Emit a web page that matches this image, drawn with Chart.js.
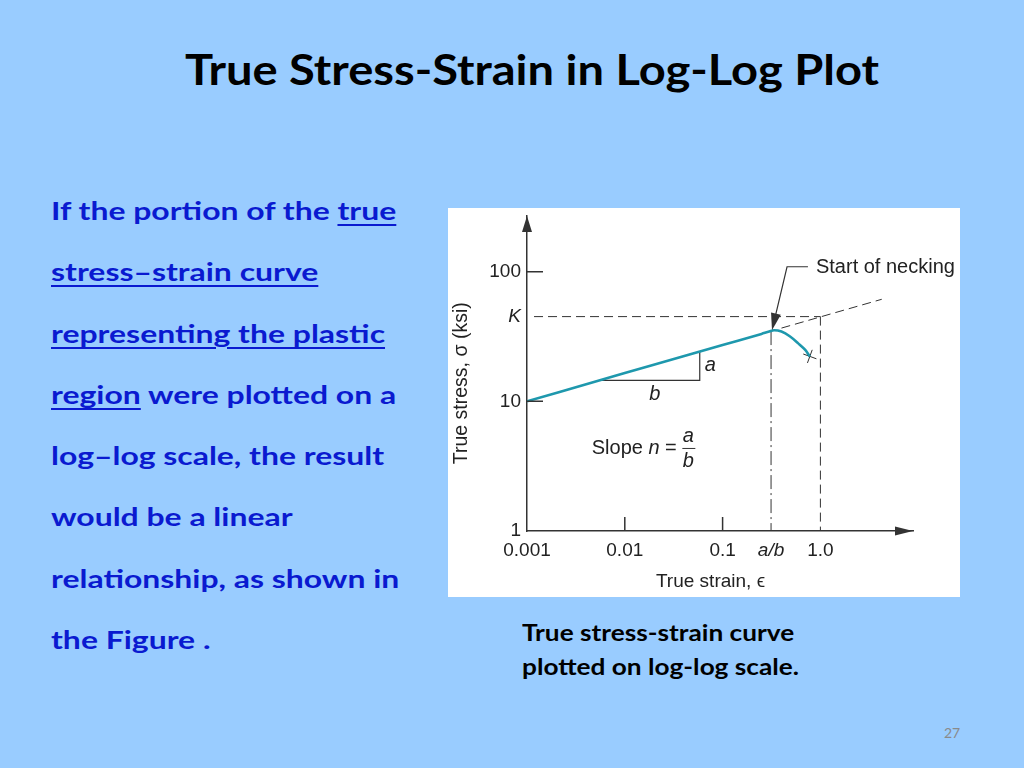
<!DOCTYPE html>
<html>
<head>
<meta charset="utf-8">
<script src="https://cdn.jsdelivr.net/npm/chart.js@4/dist/chart.umd.min.js"></script>
<style>
  body { margin: 0; width: 1024px; height: 768px; background: #99ccff; position: relative; overflow: hidden; font-family: Lato, "Open Sans", sans-serif; }
  #title { position: absolute; left: 185px; top: 44px; font-weight: bold; font-size: 42px; color: #000; white-space: nowrap; transform: scaleX(1.12); transform-origin: left top; }
  #text { position: absolute; left: 51px; top: 180px; font-weight: bold; font-size: 24px; line-height: 61.3px; color: #0a1ad0; white-space: nowrap; transform: scaleX(1.33); transform-origin: left top; }
  #text u { text-decoration-thickness: 2px; text-underline-offset: 4px; }
  #caption { position: absolute; left: 522px; top: 615px; font-weight: bold; font-size: 23px; line-height: 34px; color: #000; white-space: nowrap; transform: scaleX(1.14); transform-origin: left top; }
  #page { position: absolute; left: 944px; top: 724px; font-size: 14px; color: #8a8a8a; }
  #box { position: absolute; left: 448px; top: 208px; width: 512px; height: 389px; background: #fff; }
</style>
</head>
<body>
<div id="title">True Stress-Strain in Log-Log Plot</div>
<div id="text">
  If the portion of the <u>true</u><br>
  <u>stress–strain curve</u><br>
  <u>representing the plastic</u><br>
  <u>region</u> were plotted on a<br>
  log–log scale, the result<br>
  would be a linear<br>
  relationship, as shown in<br>
  the Figure .
</div>
<div id="box"><canvas id="chart" width="512" height="389"></canvas></div>
<div id="caption">True stress-strain curve<br>plotted on log-log scale.</div>
<div id="page">27</div>

<script>
// axis ticks
const xTickValues = [0.001, 0.01, 0.1, 0.313, 1.0];
const xTickLabels = ['0.001', '0.01', '0.1', 'a/b', '1.0'];
const yTickValues = [1, 10, 45, 100];
const yTickLabels = ['1', '10', 'K', '100'];
const xMarkValues = [0.01, 0.1];
const yMarkValues = [10, 100];

// true stress-strain curve (ksi), up to necking and beyond
const curveStrain = [0.001, 0.01, 0.1, 0.25, 0.30, 0.336, 0.40, 0.49, 0.59, 0.70, 0.78];
const curveStress = [10, 16.5, 27.2, 33.1, 34.5, 35.3, 34.5, 31.6, 28.1, 24.9, 22.2];

// guide lines
const extStrain = [0.40, 4.24];
const extStress = [36.7, 61.2];
const kStrain = [0.00118, 1.0];
const kStress = [45, 45];
const oneStrain = [1.0, 1.0];
const oneStress = [45, 1];
const abStrain = [0.313, 0.313];
const abStress = [34.8, 1];
const triStrain = [0.0058, 0.0584, 0.0584];
const triStress = [14.5, 14.5, 24.2];
const leaderStrain = [0.746, 0.456, 0.327];
const leaderStress = [109, 109, 37.9];

const ink = '#333';
const teal = '#1e98ad';
const sans = '"Liberation Sans", Arial, "DejaVu Sans", sans-serif';

const pts = (xs, ys) => xs.map((x, i) => ({ x: x, y: ys[i] }));

function guide(xs, ys, dash, width) {
  return { data: pts(xs, ys), borderColor: ink, borderWidth: width || 1, borderDash: dash, pointRadius: 0, fill: false };
}

const decor = {
  id: 'decor',
  afterDatasetsDraw(chart) {
    const { ctx, chartArea: a, scales: { x, y } } = chart;
    ctx.save();
    ctx.fillStyle = ink;
    ctx.strokeStyle = ink;
    ctx.lineWidth = 1.5;

    // arrowheads on the axes
    ctx.beginPath();
    ctx.moveTo(a.left, a.top);
    ctx.lineTo(a.left - 5, a.top + 16);
    ctx.lineTo(a.left + 5, a.top + 16);
    ctx.fill();
    ctx.beginPath();
    ctx.moveTo(a.right, a.bottom);
    ctx.lineTo(a.right - 18, a.bottom - 4.5);
    ctx.lineTo(a.right - 18, a.bottom + 4.5);
    ctx.fill();

    // inside tick marks
    ctx.beginPath();
    yMarkValues.forEach(v => {
      const py = y.getPixelForValue(v);
      ctx.moveTo(a.left, py);
      ctx.lineTo(a.left + 16, py);
    });
    xMarkValues.forEach(v => {
      const px = x.getPixelForValue(v);
      ctx.moveTo(px, a.bottom);
      ctx.lineTo(px, a.bottom - 14);
    });
    ctx.stroke();

    // arrowhead of the necking leader
    const n = leaderStrain.length;
    const tx = x.getPixelForValue(leaderStrain[n - 1]), ty = y.getPixelForValue(leaderStress[n - 1]);
    const fx = x.getPixelForValue(leaderStrain[n - 2]), fy = y.getPixelForValue(leaderStress[n - 2]);
    const ang = Math.atan2(ty - fy, tx - fx);
    ctx.beginPath();
    ctx.moveTo(tx + Math.cos(ang) * 4, ty + Math.sin(ang) * 4);
    ctx.lineTo(tx - Math.cos(ang) * 13 + Math.sin(ang) * 5, ty - Math.sin(ang) * 13 - Math.cos(ang) * 5);
    ctx.lineTo(tx - Math.cos(ang) * 13 - Math.sin(ang) * 5, ty - Math.sin(ang) * 13 + Math.cos(ang) * 5);
    ctx.fill();

    // annotations
    ctx.fillStyle = '#222';
    ctx.textBaseline = 'middle';
    ctx.font = '20px ' + sans;
    ctx.textAlign = 'left';
    ctx.fillText('Start of necking', x.getPixelForValue(leaderStrain[0]) + 8, y.getPixelForValue(leaderStress[0]) + 1);

    const vx = x.getPixelForValue(triStrain[1]);
    const hy = y.getPixelForValue(triStress[0]);
    const vy = y.getPixelForValue(triStress[2]);
    ctx.font = 'italic 20px ' + sans;
    ctx.fillText('a', vx + 5, (hy + vy) / 2 - 1);
    ctx.textAlign = 'center';
    ctx.fillText('b', (x.getPixelForValue(triStrain[0]) + vx) / 2 + 4, hy + 14);

    // Slope n = a/b
    let sx = x.getPixelForValue(0.00459);
    const sy = y.getPixelForValue(4.33);
    ctx.textAlign = 'left';
    ctx.font = '20px ' + sans;
    ctx.fillText('Slope ', sx, sy);
    sx += ctx.measureText('Slope ').width;
    ctx.font = 'italic 20px ' + sans;
    ctx.fillText('n', sx, sy);
    sx += ctx.measureText('n ').width;
    ctx.font = '20px ' + sans;
    ctx.fillText('=', sx, sy);
    sx += ctx.measureText('= ').width;
    ctx.font = 'italic 20px ' + sans;
    ctx.textAlign = 'center';
    ctx.fillText('a', sx + 6, sy - 12);
    ctx.fillText('b', sx + 6, sy + 13);
    ctx.lineWidth = 1;
    ctx.beginPath();
    ctx.moveTo(sx, sy);
    ctx.lineTo(sx + 13, sy);
    ctx.stroke();
    ctx.restore();
  }
};

new Chart(document.getElementById('chart'), {
  type: 'line',
  data: {
    datasets: [
      { data: pts(curveStrain, curveStress), borderColor: teal, borderWidth: 2.6, pointRadius: 0, cubicInterpolationMode: 'monotone', fill: false },
      { data: pts(curveStrain.slice(-1), curveStress.slice(-1)), showLine: false, pointStyle: 'cross', rotation: 20, pointRadius: 7, borderColor: ink, borderWidth: 1 },
      guide(extStrain, extStress, [9, 5]),
      guide(kStrain, kStress, [9, 5]),
      guide(oneStrain, oneStress, [9, 5]),
      guide(abStrain, abStress, [14, 4, 2, 4]),
      guide(triStrain, triStress, [], 1.2),
      guide(leaderStrain, leaderStress, [], 1.2)
    ]
  },
  options: {
    responsive: false,
    animation: false,
    layout: { padding: { top: 6, right: 47, left: 0, bottom: 0 } },
    plugins: { legend: { display: false }, tooltip: { enabled: false } },
    scales: {
      x: {
        type: 'logarithmic',
        min: 0.001,
        max: 8.85,
        afterBuildTicks: s => { s.ticks = xTickValues.map(v => ({ value: v })); },
        afterFit: s => { s.height = 66; s.paddingLeft = 0; s.paddingRight = 0; },
        grid: { display: false, drawTicks: false },
        border: { display: true, color: ink, width: 1.5 },
        ticks: {
          autoSkip: false,
          maxRotation: 0,
          padding: 8,
          color: '#222',
          font: c => ({ family: sans, size: 19, style: xTickLabels[c.index] === 'a/b' ? 'italic' : 'normal' }),
          callback: (v, i) => xTickLabels[i]
        },
        title: { display: true, text: 'True strain, ϵ\u2003', color: '#222', font: { family: sans, size: 19 }, padding: { top: 0, bottom: 4 } }
      },
      y: {
        type: 'logarithmic',
        min: 1,
        max: 268.5,
        afterBuildTicks: s => { s.ticks = yTickValues.map(v => ({ value: v })); },
        afterFit: s => { s.width = 79; s.paddingTop = 0; s.paddingBottom = 0; },
        grid: { display: false, drawTicks: false },
        border: { display: true, color: ink, width: 1.5 },
        ticks: {
          autoSkip: false,
          padding: 6,
          color: '#222',
          font: c => ({ family: sans, size: 19, style: yTickLabels[c.index] === 'K' ? 'italic' : 'normal' }),
          callback: (v, i) => yTickLabels[i]
        },
        title: { display: true, text: 'True stress, σ (ksi)\u2003', color: '#222', font: { family: sans, size: 19.5 }, padding: { top: 2, bottom: 0 } }
      }
    }
  },
  plugins: [decor]
});
</script>
</body>
</html>
